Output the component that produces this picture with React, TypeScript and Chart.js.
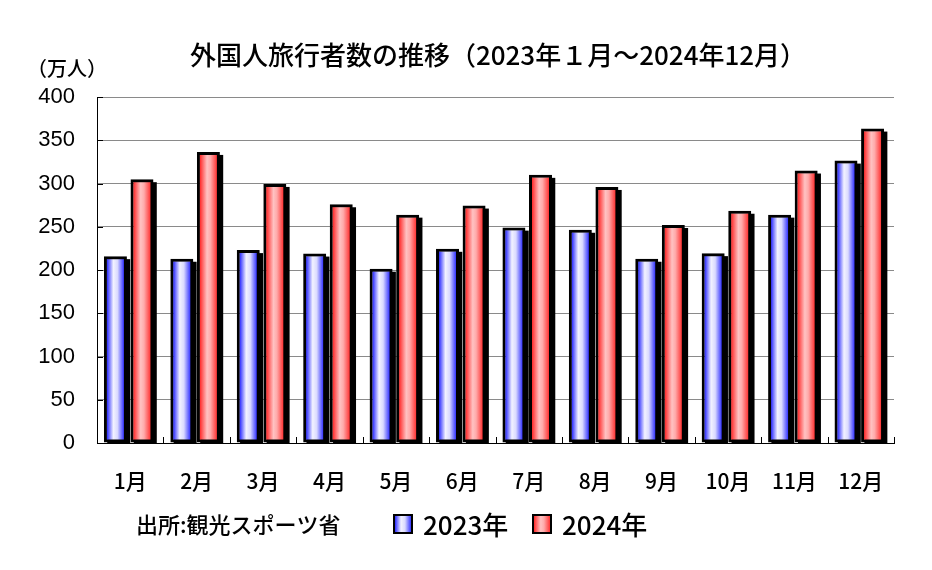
import React, { useEffect, useRef } from "react";
import { Chart, registerables } from "chart.js";

Chart.register(...registerables);

// ---- data ----
const categories = ["1月", "2月", "3月", "4月", "5月", "6月", "7月", "8月", "9月", "10月", "11月", "12月"];
const values2023 = [216, 213, 223, 219, 201.5, 224.5, 249, 246.5, 213, 219.5, 264, 326.5];
const values2024 = [305, 336.5, 299.5, 276, 264, 274.5, 310, 296, 252, 268.5, 315, 363.5];
const seriesLabels = ["2023年", "2024年"];
const yMin = 0;
const yMax = 400;
const yStep = 50;
const titleText = "外国人旅行者数の推移（2023年１月～2024年12月）";
const unitText = "（万人）";
const sourceText = "出所:観光スポーツ省";

// ---- style ----
const CJK = "'Noto Sans CJK JP', 'Noto Sans CJK SC', sans-serif";
const LATIN = "'Liberation Sans', Arial, sans-serif";
const CAT_PCT = 0.8;
const BAR_PCT = 0.865;
const BORDER = 3;
const SHADOW_X = 3.3;
const SHADOW_Y = 3;
const BAR_SHIFT = -1.5;

const blueStops: [number, string][] = [
  [0, "#2a2aff"],
  [0.38, "#f2f2ff"],
  [0.62, "#dadaff"],
  [1, "#3535ff"],
];
const redStops: [number, string][] = [
  [0, "#ff2a2a"],
  [0.42, "#ffc2c2"],
  [0.62, "#ffaaaa"],
  [1, "#ff3535"],
];
const seriesStops = [blueStops, redStops];
const seriesFlat = ["#7070ff", "#ff7070"];

function makeGradient(c: CanvasRenderingContext2D, l: number, r: number, stops: [number, string][]) {
  const g = c.createLinearGradient(l, 0, r, 0);
  stops.forEach(([o, col]) => g.addColorStop(o, col));
  return g;
}

function barFill(di: number) {
  return (sc: any) => {
    const chart = sc.chart;
    const xs = chart.scales && chart.scales.x;
    if (!xs || sc.dataIndex === undefined || !(xs.width > 0)) return seriesFlat[di];
    const n = chart.data.labels.length;
    const catW = xs.width / n;
    const slot = (catW * CAT_PCT) / 2;
    const bw = slot * BAR_PCT;
    const center = xs.getPixelForValue(sc.dataIndex) + (di === 0 ? -slot / 2 : slot / 2);
    const l = center - bw / 2 + BORDER;
    const r = center + bw / 2 - BORDER;
    return makeGradient(chart.ctx, l, r, seriesStops[di]);
  };
}

const decorPlugin = {
  id: "decor",
  beforeDatasetsDraw(chart: any) {
    const c: CanvasRenderingContext2D = chart.ctx;
    const a = chart.chartArea;
    c.save();
    c.beginPath();
    c.rect(a.left, a.top, a.right - a.left, a.bottom - a.top);
    c.clip();
    c.translate(BAR_SHIFT, 0);
    c.fillStyle = "#000";
    chart.data.datasets.forEach((_: any, di: number) => {
      const meta = chart.getDatasetMeta(di);
      meta.data.forEach((bar: any) => {
        const p = bar.getProps(["x", "y", "base", "width"], true);
        c.fillRect(p.x - p.width / 2 + SHADOW_X, p.y + SHADOW_Y, p.width, p.base - p.y);
      });
    });
    c.restore();
    c.save();
    c.translate(BAR_SHIFT, 0);
  },
  afterDatasetsDraw(chart: any) {
    chart.ctx.restore();
  },
  afterDraw(chart: any) {
    const c: CanvasRenderingContext2D = chart.ctx;
    const a = chart.chartArea;
    const xs = chart.scales.x;
    const ys = chart.scales.y;
    c.save();
    // inner tick marks
    c.strokeStyle = "#000";
    c.lineWidth = 1;
    c.beginPath();
    ys.ticks.forEach((t: any) => {
      const py = Math.round(ys.getPixelForValue(t.value)) + 0.5;
      c.moveTo(a.left, py);
      c.lineTo(a.left + 6, py);
    });
    for (let i = 0; i <= chart.data.labels.length; i++) {
      const px = Math.round(xs.getPixelForValue(i - 0.5)) + 0.5;
      c.moveTo(px, a.bottom);
      c.lineTo(px, a.bottom - 6);
    }
    c.stroke();

    // title
    c.fillStyle = "#000";
    c.textBaseline = "middle";
    c.textAlign = "center";
    c.font = `500 26px ${CJK}`;
    c.fillText(titleText, 498, 55);

    // unit
    c.font = `500 20px ${CJK}`;
    c.fillText(unitText, 67, 68);

    // source
    c.textAlign = "left";
    c.font = `500 22px ${CJK}`;
    c.fillText(sourceText, 136, 525);

    // legend
    const boxes = [393, 532];
    chart.data.datasets.forEach((ds: any, di: number) => {
      const bx = boxes[di];
      const by = 514;
      const bw = 20;
      const bh = 20;
      c.fillStyle = "#000";
      c.fillRect(bx, by, bw, bh);
      c.fillStyle = makeGradient(c, bx + 2, bx + bw - 2, seriesStops[di]);
      c.fillRect(bx + 2, by + 2, bw - 4, bh - 4);
      c.fillStyle = "#000";
      c.font = `500 26px ${CJK}`;
      c.fillText(ds.label, bx + 30, 525);
    });
    c.restore();
  },
};

export default function App() {
  const ref = useRef<HTMLCanvasElement | null>(null);
  useEffect(() => {
    if (!ref.current) return;
    const chart = new Chart(ref.current, {
      type: "bar",
      data: {
        labels: categories,
        datasets: [
          {
            label: seriesLabels[0],
            data: values2023,
            backgroundColor: barFill(0),
            borderColor: "#000",
            borderWidth: BORDER,
            borderSkipped: false,
            categoryPercentage: CAT_PCT,
            barPercentage: BAR_PCT,
          },
          {
            label: seriesLabels[1],
            data: values2024,
            backgroundColor: barFill(1),
            borderColor: "#000",
            borderWidth: BORDER,
            borderSkipped: false,
            categoryPercentage: CAT_PCT,
            barPercentage: BAR_PCT,
          },
        ],
      },
      options: {
        responsive: false,
        animation: false,
        layout: { padding: { top: 97, right: 38, left: 0, bottom: 0 } },
        plugins: {
          legend: { display: false },
          title: { display: false },
          tooltip: { enabled: false },
        },
        scales: {
          x: {
            offset: true,
            grid: { display: false, drawTicks: false },
            border: { display: true, color: "#000", width: 1 },
            ticks: {
              color: "#000",
              padding: 25,
              font: { family: CJK, size: 21, weight: "500" },
              maxRotation: 0,
              autoSkip: false,
            },
            afterFit: (s: any) => {
              s.height = 127;
            },
          },
          y: {
            min: yMin,
            max: yMax,
            grid: { color: "#8a8a8a", lineWidth: 1, drawTicks: false },
            border: { display: true, color: "#000", width: 1 },
            ticks: {
              stepSize: yStep,
              color: "#000",
              padding: 22,
              font: { family: LATIN, size: 22 },
            },
            afterFit: (s: any) => {
              s.width = 97;
            },
          },
        },
      },
      plugins: [decorPlugin],
    });
    return () => chart.destroy();
  }, []);
  return (
    <div style={{ position: "absolute", left: 0, top: 0, width: 932, height: 570, background: "#fff" }}>
      <canvas ref={ref} width={932} height={570} />
    </div>
  );
}
